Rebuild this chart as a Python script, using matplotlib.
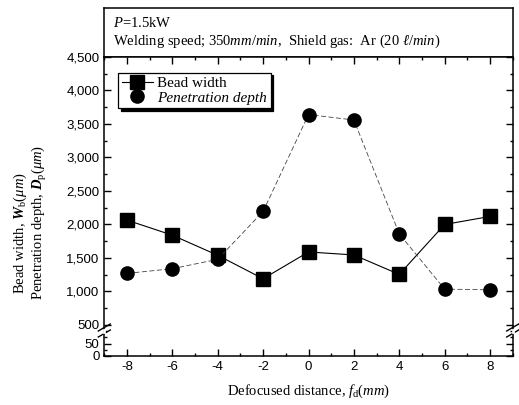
import numpy as np
import matplotlib
matplotlib.use('Agg')
import matplotlib.pyplot as plt
from matplotlib.ticker import MultipleLocator, FuncFormatter

plt.rcParams['font.family'] = ['Liberation Serif', 'DejaVu Serif']
plt.rcParams['mathtext.fontset'] = 'custom'
plt.rcParams['mathtext.rm'] = 'Liberation Serif'
plt.rcParams['mathtext.it'] = 'Liberation Serif:italic'
plt.rcParams['mathtext.bf'] = 'Liberation Serif:bold:italic'
plt.rcParams['axes.unicode_minus'] = False

# data
defocus = [-8, -6, -4, -2, 0, 2, 4, 6, 8]
bead_width = [2065, 1840, 1540, 1190, 1590, 1545, 1255, 2000, 2120]
penetration = [1270, 1340, 1480, 2195, 3640, 3560, 1860, 1035, 1025]

x_ticks = [-8, -6, -4, -2, 0, 2, 4, 6, 8]
upper_ticks = [500, 1000, 1500, 2000, 2500, 3000, 3500, 4000, 4500]
lower_ticks = [0, 50]

W, H = 519, 405
fig = plt.figure(figsize=(W / 100, H / 100), dpi=100)

left, right = 104.3 / W, 512.7 / W
def fy(px):
    return 1 - px / H

ax_txt = fig.add_axes([left, fy(57), right - left, fy(8) - fy(57)])
ax_up = fig.add_axes([left, fy(331), right - left, fy(57) - fy(331)])
ax_lo = fig.add_axes([left, fy(356), right - left, fy(331) - fy(356)], sharex=ax_up)

# text panel
ax_txt.set_xticks([])
ax_txt.set_yticks([])
for s in ax_txt.spines.values():
    s.set_linewidth(1.1)
ax_txt.text(0.022, 0.7, '$P$=1.5kW', fontsize=10.5, va='center', transform=ax_txt.transAxes)
ax_txt.text(0.022, 0.33, 'Welding speed; 350$\\mathit{mm/min}$,  Shield gas:  Ar (20 $\\mathit{ℓ/min}$)',
            fontsize=10.5, va='center', transform=ax_txt.transAxes)

# data
for ax in (ax_up, ax_lo):
    ax.plot(defocus, bead_width, color='black', lw=0.8, marker='s', ms=9.5,
            label='Bead width')
    ax.plot(defocus, penetration, color='#444444', lw=0.6, ls=(0, (6, 3)), marker='o',
            ms=9.5, mfc='black', mec='black')
ax_up.plot([], [], 'o', color='black', ms=9.5, label='Penetration depth')

ax_up.set_xlim(-9, 9)
ax_up.set_ylim(410, 4500)
ax_lo.set_ylim(0, 100)

comma = FuncFormatter(lambda v, p: '{:,}'.format(int(v)))
ax_up.set_yticks(upper_ticks)
ax_up.yaxis.set_major_formatter(comma)
ax_up.yaxis.set_minor_locator(MultipleLocator(250))
ax_lo.set_yticks(lower_ticks)
ax_lo.yaxis.set_minor_locator(MultipleLocator(25))
ax_lo.set_xticks(x_ticks)
ax_lo.xaxis.set_minor_locator(MultipleLocator(1))

for ax in (ax_up, ax_lo):
    ax.tick_params(which='both', direction='in', top=True, right=True, width=1.0,
                   labelsize=9.5, labelfontfamily='Liberation Sans')
    ax.tick_params(which='major', length=5)
    ax.tick_params(which='minor', length=2.5)
    for s in ax.spines.values():
        s.set_linewidth(1.1)
ax_up.tick_params(axis='x', which='both', bottom=False, labelbottom=False)
ax_lo.tick_params(axis='x', which='both', top=False)
ax_up.spines['bottom'].set_visible(False)
ax_lo.spines['top'].set_visible(False)

# break marks: two slanted strokes across each side spine
tr = fig.transFigure
for xpx in (104.3, 512.7):
    for ypx in (327.5, 333.5):
        fig.add_artist(plt.Line2D([(xpx - 6) / W, (xpx + 6) / W], [fy(ypx + 3.5), fy(ypx - 3.5)],
                                  transform=tr, color='black', lw=1.0))
    # white gap in the spine between the strokes
    fig.add_artist(plt.Line2D([xpx / W, xpx / W], [fy(329.5), fy(331.5)], transform=tr,
                              color='white', lw=2.0))

leg = ax_up.legend(loc='upper left', bbox_to_anchor=(0.034, 0.943), borderaxespad=0,
                   fontsize=11, frameon=True, fancybox=False, shadow={'color': 'black', 'alpha': 1},
                   edgecolor='black', handlelength=2.0, handletextpad=0.3, labelspacing=0.05,
                   borderpad=0.25, markerscale=1.0)
leg.get_frame().set_linewidth(0.9)
leg.get_texts()[1].set_style('italic')

ax_lo.set_xlabel('Defocused distance, $\\mathit{f}_{\\rm d}$($\\mathit{mm}$)', fontsize=10.5, labelpad=7)

fig.text(20 / W, fy(233), 'Bead width, $\\mathbf{W}_{\\rm b}$($\\mathit{μm}$)', rotation=90,
         fontsize=10.5, ha='center', va='center')
fig.text(40 / W, fy(222), 'Penetration depth, $\\mathbf{D}_{\\rm p}$($\\mathit{μm}$)', rotation=90,
         fontsize=10.5, ha='center', va='center')

fig.savefig('out.png', dpi=100)
